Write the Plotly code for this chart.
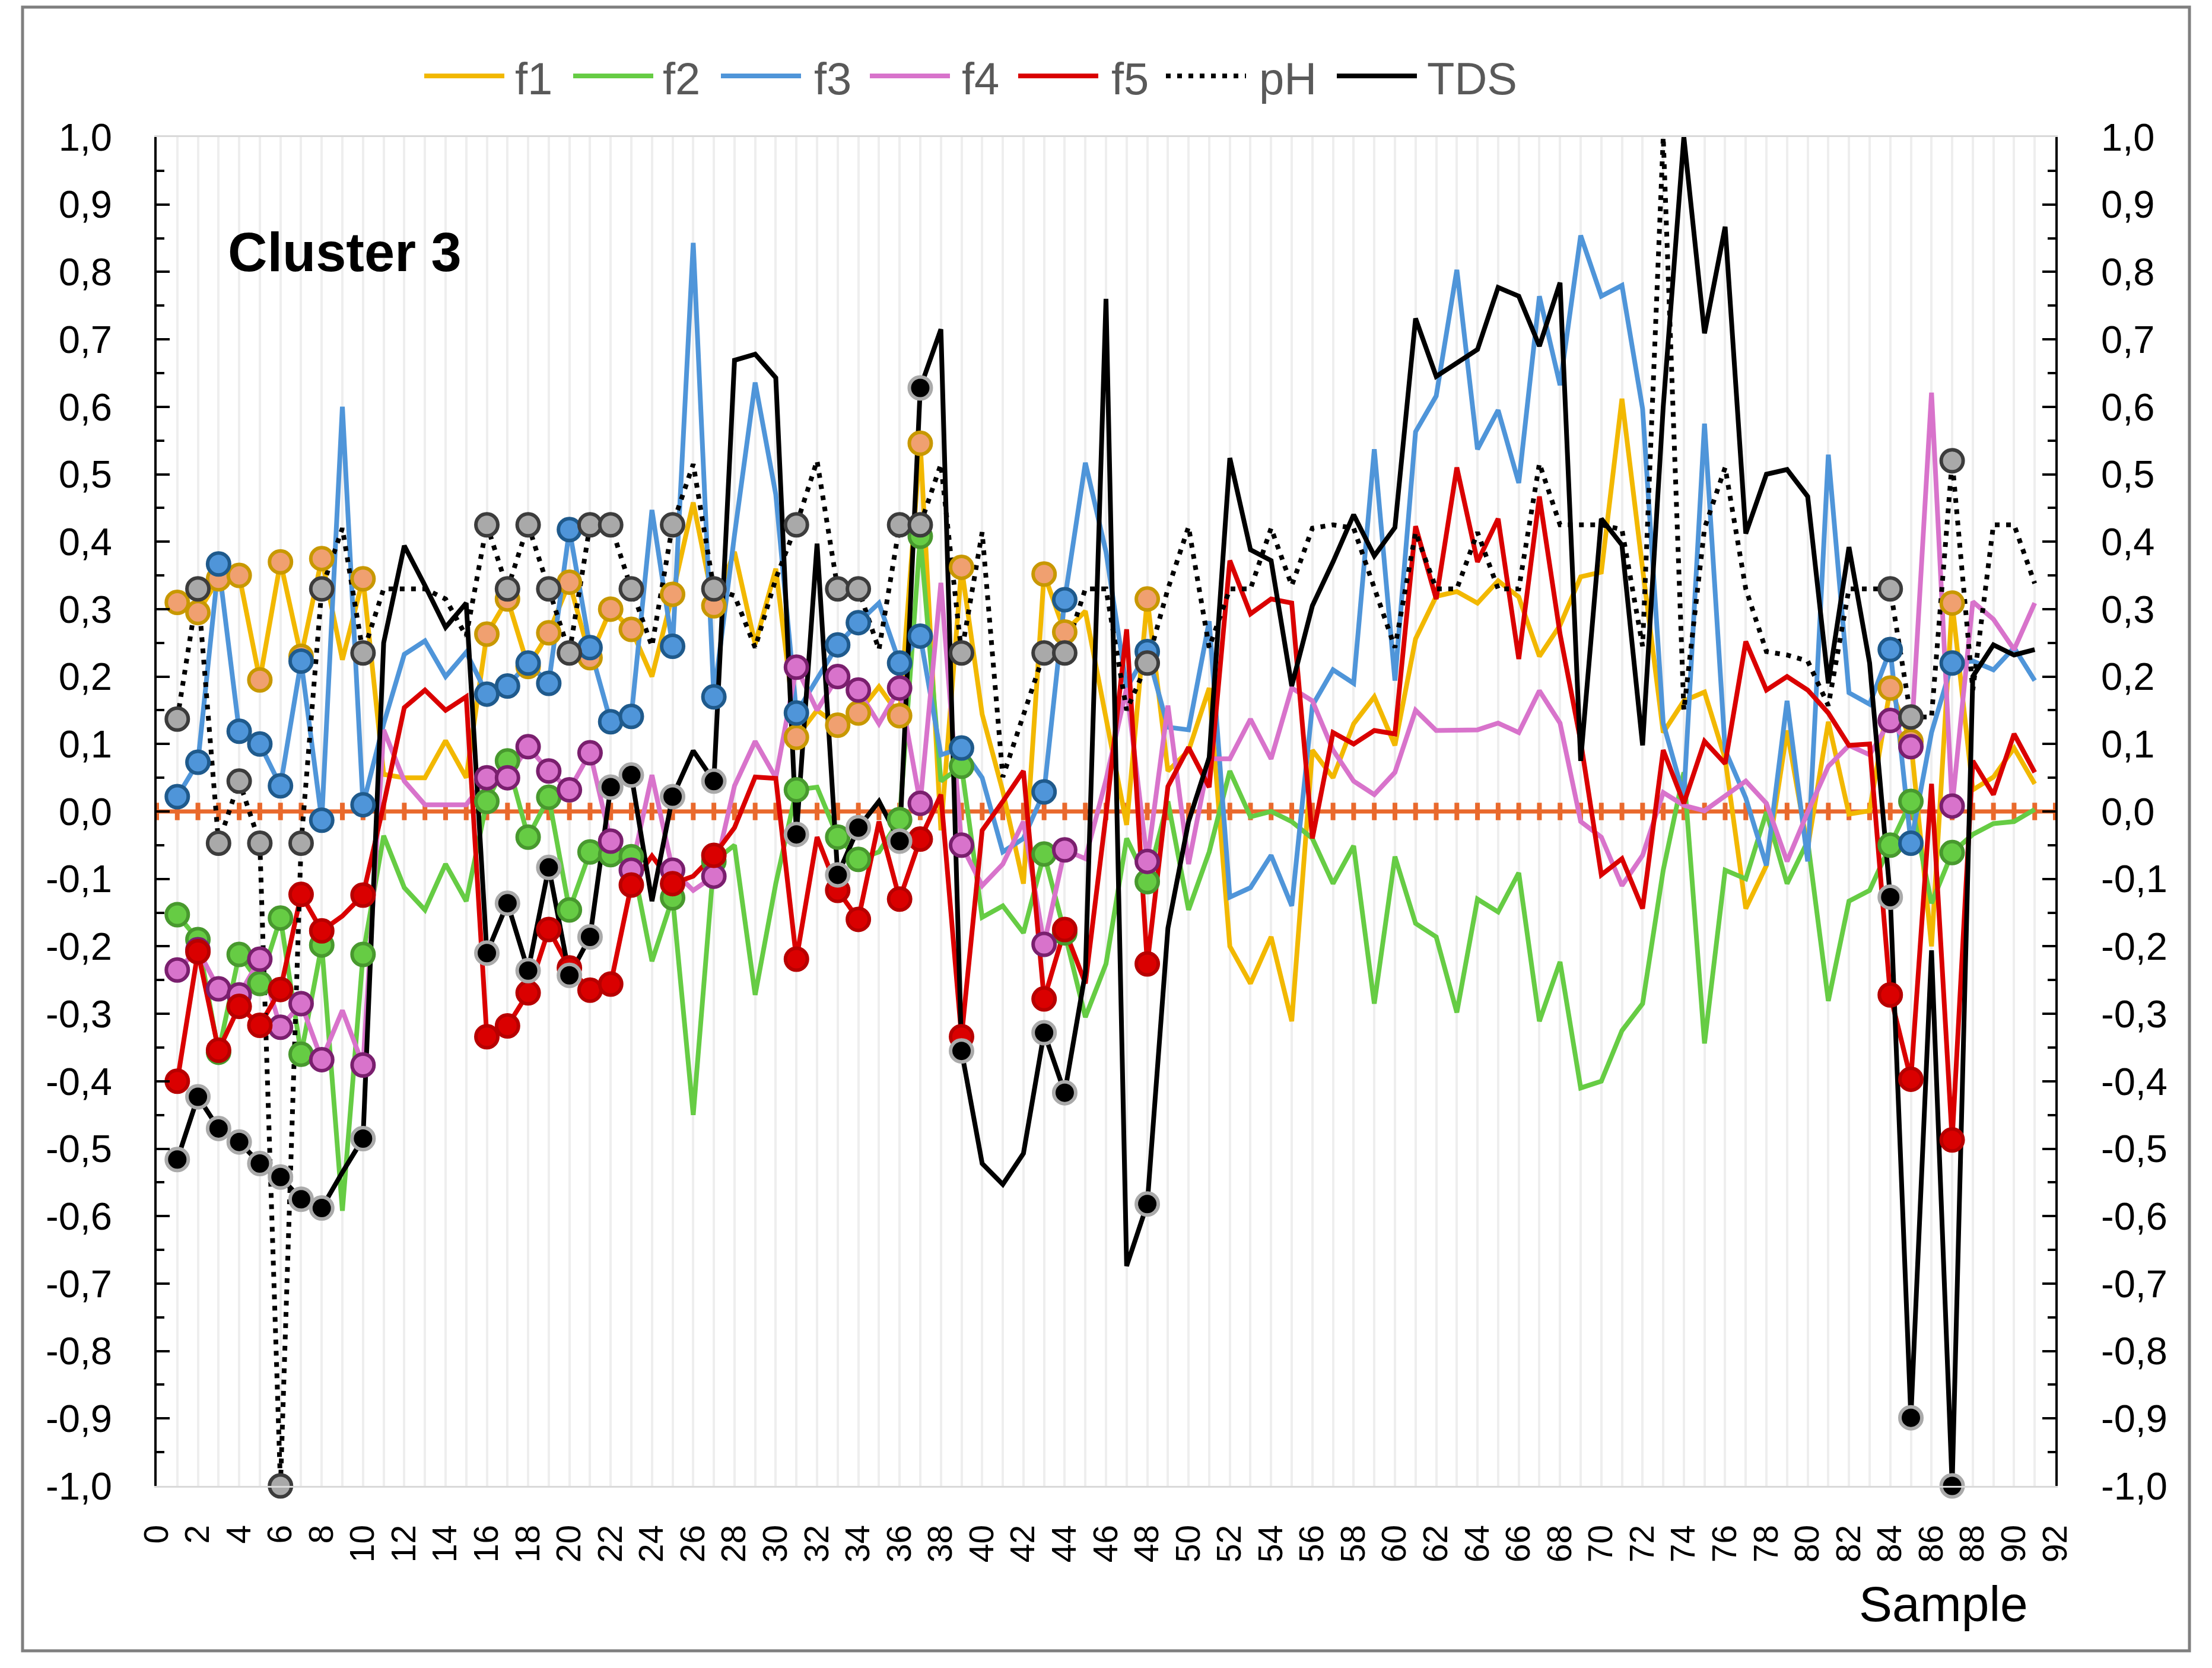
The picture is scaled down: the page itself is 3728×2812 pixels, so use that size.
import plotly.graph_objects as go

# ---------------- data ----------------
SAMPLES = list(range(1, 92))
CLUSTER3 = [1, 2, 3, 4, 5, 6, 7, 8, 10, 16, 17, 18, 19, 20, 21, 22, 23, 25, 27, 31,
            33, 34, 36, 37, 39, 43, 44, 48, 84, 85, 87]

f1 = [0.31, 0.295, 0.345, 0.35, 0.195, 0.37, 0.23, 0.375, 0.225, 0.345,
      0.055, 0.05, 0.05, 0.105, 0.05, 0.263, 0.315, 0.215, 0.265, 0.34,
      0.228, 0.30, 0.27, 0.20, 0.322, 0.458, 0.305, 0.385, 0.248, 0.36,
      0.11, 0.15, 0.128, 0.146, 0.185, 0.142, 0.546, -0.028, 0.362, 0.144,
      0.03, -0.107, 0.352, 0.266, 0.297, 0.142, -0.02, 0.315, 0.06, 0.09,
      0.183, -0.2, -0.255, -0.186, -0.311, 0.091, 0.05, 0.13, 0.17, 0.098,
      0.256, 0.319, 0.326, 0.309, 0.342, 0.318, 0.23, 0.276, 0.348, 0.355,
      0.612, 0.36, 0.117, 0.164, 0.177, 0.078, -0.144, -0.08, 0.12, -0.054,
      0.133, -0.004, 0.001, 0.183, 0.104, -0.2, 0.309, 0.032, 0.051, 0.094,
      0.041]

f2 = [-0.153, -0.19, -0.357, -0.212, -0.255, -0.158, -0.36, -0.198, -0.592, -0.212,
      -0.036, -0.113, -0.146, -0.078, -0.133, 0.015, 0.075, -0.038, 0.021, -0.146,
      -0.06, -0.064, -0.067, -0.222, -0.128, -0.45, -0.074, -0.05, -0.272, -0.107,
      0.032, 0.036, -0.038, -0.071, -0.06, -0.012, 0.408, 0.045, 0.067, -0.157,
      -0.14, -0.18, -0.063, -0.18, -0.305, -0.226, -0.04, -0.104, 0.015, -0.146,
      -0.06, 0.06, -0.008, 0.0, -0.015, -0.04, -0.107, -0.051, -0.285, -0.067,
      -0.166, -0.186, -0.298, -0.13, -0.149, -0.091, -0.311, -0.223, -0.41, -0.4,
      -0.325, -0.285, -0.087, 0.058, -0.344, -0.087, -0.1, -0.001, -0.107, -0.044,
      -0.281, -0.133, -0.117, -0.05, 0.015, -0.136, -0.061, -0.034, -0.018, -0.015,
      0.003]

f3 = [0.022, 0.073, 0.367, 0.119, 0.10, 0.038, 0.223, -0.013, 0.60, 0.01,
      0.13, 0.233, 0.253, 0.20, 0.236, 0.174, 0.186, 0.22, 0.19, 0.418,
      0.243, 0.133, 0.141, 0.447, 0.245, 0.843, 0.17, 0.41, 0.636, 0.47,
      0.146, 0.197, 0.247, 0.28, 0.309, 0.22, 0.26, 0.084, 0.094, 0.05,
      -0.06, -0.04, 0.029, 0.314, 0.517, 0.385, 0.183, 0.237, 0.125, 0.121,
      0.282, -0.127, -0.113, -0.065, -0.14, 0.157, 0.21, 0.19, 0.537, 0.194,
      0.563, 0.616, 0.803, 0.537, 0.595, 0.487, 0.764, 0.632, 0.854, 0.764,
      0.78, 0.597, 0.131, 0.022, 0.575, 0.091, 0.02, -0.08, 0.164, -0.074,
      0.529, 0.176, 0.159, 0.24, -0.047, 0.117, 0.22, 0.223, 0.21, 0.243,
      0.194]

f4 = [-0.235, -0.205, -0.263, -0.272, -0.219, -0.32, -0.285, -0.368, -0.295, -0.376,
      0.121, 0.045, 0.01, 0.01, 0.01, 0.05, 0.05, 0.096, 0.06, 0.032,
      0.087, -0.044, -0.087, 0.054, -0.087, -0.117, -0.096, 0.038, 0.104, 0.05,
      0.214, 0.15, 0.2, 0.18, 0.13, 0.183, 0.012, 0.339, -0.05, -0.11,
      -0.078, -0.015, -0.197, -0.057, -0.07, 0.047, 0.183, -0.074, 0.157, -0.078,
      0.078, 0.078, 0.137, 0.078, 0.183, 0.164, 0.091, 0.045, 0.025, 0.058,
      0.15, 0.12, 0.12, 0.121, 0.131, 0.117, 0.179, 0.131, -0.015, -0.038,
      -0.11, -0.065, 0.028, 0.009, 0.001, 0.022, 0.045, 0.012, -0.074, -0.001,
      0.067, 0.098, 0.084, 0.135, 0.096, 0.621, 0.008, 0.311, 0.285, 0.24,
      0.309]

f5 = [-0.40, -0.208, -0.354, -0.289, -0.317, -0.264, -0.123, -0.177, -0.155, -0.124,
      0.01, 0.154, 0.18, 0.15, 0.17, -0.334, -0.318, -0.269, -0.175, -0.232,
      -0.265, -0.256, -0.109, -0.066, -0.107, -0.096, -0.065, -0.024, 0.051, 0.049,
      -0.219, -0.038, -0.117, -0.16, -0.015, -0.13, -0.041, 0.025, -0.334, -0.028,
      0.015, 0.06, -0.278, -0.175, -0.255, -0.005, 0.27, -0.226, 0.037, 0.095,
      0.036, 0.372, 0.293, 0.315, 0.309, -0.04, 0.117, 0.1, 0.12, 0.115,
      0.423, 0.315, 0.51, 0.37, 0.434, 0.226, 0.467, 0.263, 0.104, -0.094,
      -0.07, -0.144, 0.091, 0.012, 0.104, 0.071, 0.252, 0.18, 0.2, 0.18,
      0.146, 0.098, 0.1, -0.272, -0.397, 0.041, -0.487, 0.075, 0.025, 0.115,
      0.058]

pH = [0.137, 0.33, -0.047, 0.045, -0.047, -1.0, -0.047, 0.33, 0.42, 0.235,
      0.33, 0.33, 0.33, 0.315, 0.26, 0.425, 0.33, 0.425, 0.33, 0.235,
      0.425, 0.425, 0.33, 0.245, 0.425, 0.515, 0.33, 0.32, 0.243, 0.345,
      0.425, 0.52, 0.33, 0.33, 0.24, 0.425, 0.425, 0.515, 0.235, 0.414,
      0.051, 0.144, 0.235, 0.235, 0.33, 0.33, 0.15, 0.22, 0.33, 0.422,
      0.243, 0.33, 0.33, 0.42, 0.335, 0.42, 0.425, 0.42, 0.33, 0.243,
      0.414, 0.33, 0.33, 0.414, 0.33, 0.33, 0.516, 0.425, 0.425, 0.425,
      0.418, 0.245, 1.0, 0.15, 0.42, 0.51, 0.33, 0.237, 0.232, 0.223,
      0.157, 0.33, 0.33, 0.33, 0.14, 0.14, 0.52, 0.18, 0.425, 0.425,
      0.338]

TDS = [-0.516, -0.423, -0.47, -0.49, -0.522, -0.542, -0.575, -0.588, -0.535, -0.485,
       0.25, 0.394, 0.335, 0.273, 0.309, -0.21, -0.136, -0.236, -0.083, -0.243,
       -0.186, 0.036, 0.054, -0.133, 0.022, 0.09, 0.045, 0.669, 0.678, 0.643,
       -0.034, 0.397, -0.094, -0.024, 0.015, -0.044, 0.628, 0.715, -0.355, -0.522,
       -0.553, -0.507, -0.328, -0.417, -0.239, 0.76, -0.674, -0.582, -0.173, -0.015,
       0.08, 0.524, 0.388, 0.372, 0.186, 0.305, 0.37, 0.44, 0.379, 0.421,
       0.731, 0.645, 0.665, 0.685, 0.777, 0.764, 0.69, 0.784, 0.075, 0.434,
       0.395, 0.098, 0.6, 1.0, 0.709, 0.867, 0.412, 0.5, 0.507, 0.467,
       0.19, 0.392, 0.22, -0.127, -0.899, -0.206, -1.0, 0.2, 0.247, 0.232,
       0.24]

SERIES_NAMES = ["f1", "f2", "f3", "f4", "f5", "pH", "TDS"]
AXIS_TICK_X = list(range(0, 93))
Y_TICKS = [-1.0, -0.9, -0.8, -0.7, -0.6, -0.5, -0.4, -0.3, -0.2, -0.1, 0.0,
           0.1, 0.2, 0.3, 0.4, 0.5, 0.6, 0.7, 0.8, 0.9, 1.0]
Y_LABELS = ["-1,0", "-0,9", "-0,8", "-0,7", "-0,6", "-0,5", "-0,4", "-0,3", "-0,2", "-0,1", "0,0",
            "0,1", "0,2", "0,3", "0,4", "0,5", "0,6", "0,7", "0,8", "0,9", "1,0"]

# ---------------- styles ----------------
FONT = "Liberation Sans, Arial, sans-serif"
ORANGE = "#E9692C"
LW = 8
STYLE = {
    "f1": dict(line="#F2B800", fill="#F0A070", edge="#C89800", dash="solid"),
    "f2": dict(line="#66CC44", fill="#66CC44", edge="#48992E", dash="solid"),
    "f3": dict(line="#4F95D9", fill="#4F95D9", edge="#1F5A8C", dash="solid"),
    "f4": dict(line="#D873CB", fill="#D873CB", edge="#7A1F6E", dash="solid"),
    "f5": dict(line="#DA0000", fill="#DA0000", edge="#B80000", dash="solid"),
    "pH": dict(line="#000000", fill="#A9A9A9", edge="#3C3C3C", dash="8px,11px"),
    "TDS": dict(line="#000000", fill="#000000", edge="#AAAAAA", dash="solid"),
}
DATA = {"f1": f1, "f2": f2, "f3": f3, "f4": f4, "f5": f5, "pH": pH, "TDS": TDS}

W, H = 3728, 2812
L, R, T, B = 264, 3464, 231, 2505  # plot-area pixel bounds


def px(x):
    return (x - L) / (R - L)


def py(y):
    return (B - y) / (B - T)


fig = go.Figure()

# orange zero line with cross ticks
fig.add_trace(go.Scatter(
    x=AXIS_TICK_X, y=[0] * len(AXIS_TICK_X), mode="lines+markers",
    line=dict(color=ORANGE, width=7),
    marker=dict(symbol="line-ns", size=21, line=dict(color=ORANGE, width=8)),
    cliponaxis=False, hoverinfo="skip", showlegend=False))

# lines
for name in SERIES_NAMES:
    st = STYLE[name]
    fig.add_trace(go.Scatter(
        x=SAMPLES, y=DATA[name], mode="lines", name=name,
        line=dict(color=st["line"], width=LW, dash=st["dash"]),
        showlegend=False))

# markers for cluster-3 samples
for name in SERIES_NAMES:
    st = STYLE[name]
    vals = DATA[name]
    fig.add_trace(go.Scatter(
        x=CLUSTER3, y=[vals[s - 1] for s in CLUSTER3], mode="markers", name=name,
        marker=dict(size=37, color=st["fill"], line=dict(color=st["edge"], width=6)),
        cliponaxis=False, showlegend=False))

# dummy for right axis
fig.add_trace(go.Scatter(x=[0], y=[0], yaxis="y2", mode="markers",
                         marker=dict(opacity=0), hoverinfo="skip", showlegend=False))

yaxis_common = dict(
    range=[-1, 1], tickmode="array", tickvals=Y_TICKS, ticktext=Y_LABELS,
    ticks="inside", ticklen=22, tickwidth=4, tickcolor="black",
    minor=dict(tickmode="linear", tick0=0, dtick=0.05, ticks="inside",
               ticklen=13, tickwidth=4, tickcolor="black", showgrid=False),
    showgrid=False, zeroline=False, showline=True, linecolor="black", linewidth=4,
    tickfont=dict(family=FONT, size=65, color="black"),
)

fig.update_layout(
    width=W, height=H,
    margin=dict(l=L, r=W - R, t=T, b=H - B, autoexpand=False),
    paper_bgcolor="white", plot_bgcolor="white",
    font=dict(family=FONT),
    showlegend=False,
    xaxis=dict(
        range=[0, 92], tickmode="linear", tick0=0, dtick=2, tickangle=-90,
        showgrid=True, gridcolor="#EEEEEE", gridwidth=4,
        minor=dict(dtick=1, showgrid=True, gridcolor="#EEEEEE", gridwidth=4),
        showline=True, linecolor="#D9D9D9", linewidth=3, mirror=True,
        zeroline=False, ticks="", ticklabelstandoff=40,
        tickfont=dict(family=FONT, size=57, color="black"),
    ),
    yaxis=dict(**yaxis_common, ticklabelstandoff=58),
    yaxis2=dict(**yaxis_common, overlaying="y", side="right", anchor="x",
                ticklabelstandoff=60),
)

# outer frame
fig.add_shape(type="rect", xref="paper", yref="paper",
              x0=px(38), x1=px(3690), y0=py(2783), y1=py(12),
              line=dict(color="#7F7F7F", width=5), fillcolor="rgba(0,0,0,0)", layer="below")

# title inside plot
fig.add_annotation(text="<b>Cluster 3</b>", xref="paper", yref="paper",
                   x=px(382), y=py(425), xanchor="left", yanchor="middle",
                   showarrow=False, font=dict(family=FONT, size=92, color="black"))

# axis title
fig.add_annotation(text="Sample", xref="paper", yref="paper",
                   x=px(3420), y=py(2704), xanchor="right", yanchor="middle",
                   showarrow=False, font=dict(family=FONT, size=84, color="black"))

# manual legend
LEG_LINE_X = [715, 966, 1215, 1466, 1716, 1965, 2253]
LEG_TEXT_X = [866, 1115, 1370, 1619, 1871, 2120, 2403]
LEG_Y = 128
for name, lx, tx in zip(SERIES_NAMES, LEG_LINE_X, LEG_TEXT_X):
    st = STYLE[name]
    fig.add_shape(type="line", xref="paper", yref="paper",
                  x0=px(lx), x1=px(lx + 135), y0=py(LEG_Y), y1=py(LEG_Y),
                  line=dict(color=st["line"], width=LW, dash=st["dash"]))
    fig.add_annotation(text=name, xref="paper", yref="paper",
                       x=px(tx), y=py(LEG_Y + 4), xanchor="left", yanchor="middle",
                       showarrow=False, font=dict(family=FONT, size=76, color="#595959"))

fig.write_html("out.html")
